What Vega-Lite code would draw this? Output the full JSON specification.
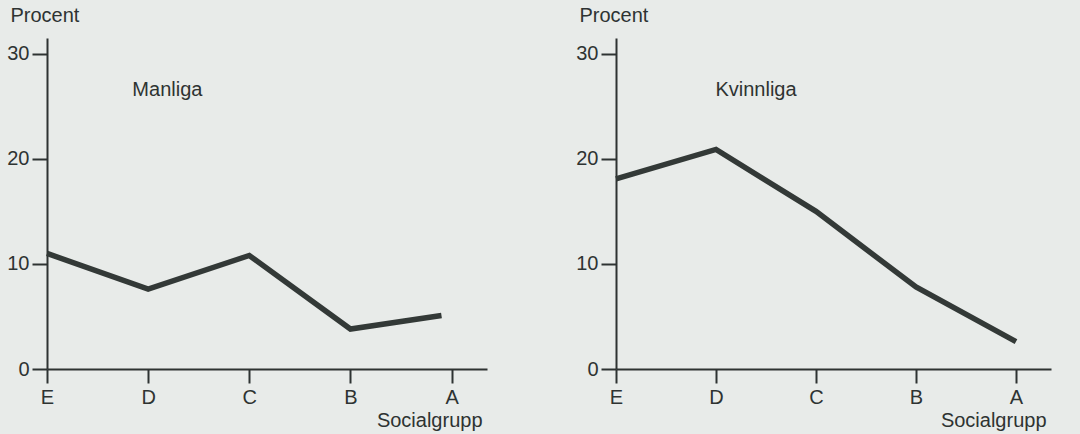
{
  "$schema": "https://vega.github.io/schema/vega-lite/v6.json",
  "background": "#e8ebe9",
  "padding": {"left": 6, "top": 5, "right": 30, "bottom": 3},
  "config": {
    "view": {"stroke": null},
    "font": "Liberation Sans"
  },
  "data": {
    "values": [
      {"kon": "Manliga", "grupp": "E", "pos": 0, "procent": 11.0},
      {"kon": "Manliga", "grupp": "D", "pos": 1, "procent": 7.6},
      {"kon": "Manliga", "grupp": "C", "pos": 2, "procent": 10.8},
      {"kon": "Manliga", "grupp": "B", "pos": 3, "procent": 3.8},
      {"kon": "Manliga", "grupp": "A", "pos": 3.9, "procent": 5.1},
      {"kon": "Kvinnliga", "grupp": "E", "pos": 0, "procent": 18.1},
      {"kon": "Kvinnliga", "grupp": "D", "pos": 1, "procent": 20.9},
      {"kon": "Kvinnliga", "grupp": "C", "pos": 2, "procent": 15.0},
      {"kon": "Kvinnliga", "grupp": "B", "pos": 3, "procent": 7.8},
      {"kon": "Kvinnliga", "grupp": "A", "pos": 4, "procent": 2.6}
    ]
  },
  "spacing": 88,
  "hconcat": [
    {
      "width": 440,
      "height": 331,
      "layer": [
        {
          "transform": [{"filter": "datum.kon === 'Manliga'"}],
          "mark": {"type": "line", "color": "#333937", "strokeWidth": 5.5, "strokeJoin": "miter", "strokeCap": "butt"},
          "encoding": {
            "x": {
              "field": "pos", "type": "quantitative",
              "scale": {"domain": [0, 4.35], "nice": false},
              "axis": {
                "grid": false, "domainColor": "#2e3332", "tickColor": "#2e3332", "domainWidth": 2, "tickWidth": 2,
                "labelColor": "#2e3332", "titleColor": "#2e3332", "labelFontSize": 20, "titleFontSize": 20,
                "titleFontWeight": "normal", "labelFont": "Liberation Sans", "titleFont": "Liberation Sans",
                "values": [0, 1, 2, 3, 4], "labelFlush": false,
                "labelExpr": "['E','D','C','B','A'][datum.value]",
                "tickSize": 14, "labelPadding": 4,
                "title": "Socialgrupp", "titleAnchor": "end", "titleAlign": "right",
                "titleX": 435, "titleY": 57.5, "titleBaseline": "alphabetic"
              }
            },
            "y": {
              "field": "procent", "type": "quantitative",
              "scale": {"domain": [0, 31.5], "nice": false},
              "axis": {
                "grid": false, "domainColor": "#2e3332", "tickColor": "#2e3332", "domainWidth": 2, "tickWidth": 2,
                "labelColor": "#2e3332", "titleColor": "#2e3332", "labelFontSize": 20, "titleFontSize": 20,
                "titleFontWeight": "normal", "labelFont": "Liberation Sans", "titleFont": "Liberation Sans",
                "values": [0, 10, 20, 30], "labelFlush": false,
                "tickSize": 15, "labelPadding": 3,
                "title": "Procent", "titleAngle": 0, "titleAlign": "left",
                "titleBaseline": "alphabetic", "titleX": -37, "titleY": -17
              }
            }
          }
        },
        {
          "data": {"values": [{"label": "Manliga"}]},
          "mark": {"type": "text", "fontSize": 20, "fontWeight": "normal", "color": "#2e3332", "font": "Liberation Sans", "align": "center", "baseline": "alphabetic"},
          "encoding": {
            "x": {"datum": 1.19, "type": "quantitative"},
            "y": {"datum": 26.0, "type": "quantitative"},
            "text": {"field": "label"}
          }
        }
      ]
    },
    {
      "width": 435,
      "height": 331,
      "layer": [
        {
          "transform": [{"filter": "datum.kon === 'Kvinnliga'"}],
          "mark": {"type": "line", "color": "#333937", "strokeWidth": 5.5, "strokeJoin": "miter", "strokeCap": "butt"},
          "encoding": {
            "x": {
              "field": "pos", "type": "quantitative",
              "scale": {"domain": [0, 4.35], "nice": false},
              "axis": {
                "grid": false, "domainColor": "#2e3332", "tickColor": "#2e3332", "domainWidth": 2, "tickWidth": 2,
                "labelColor": "#2e3332", "titleColor": "#2e3332", "labelFontSize": 20, "titleFontSize": 20,
                "titleFontWeight": "normal", "labelFont": "Liberation Sans", "titleFont": "Liberation Sans",
                "values": [0, 1, 2, 3, 4], "labelFlush": false,
                "labelExpr": "['E','D','C','B','A'][datum.value]",
                "tickSize": 14, "labelPadding": 4,
                "title": "Socialgrupp", "titleAnchor": "end", "titleAlign": "right",
                "titleX": 430, "titleY": 57.5, "titleBaseline": "alphabetic"
              }
            },
            "y": {
              "field": "procent", "type": "quantitative",
              "scale": {"domain": [0, 31.5], "nice": false},
              "axis": {
                "grid": false, "domainColor": "#2e3332", "tickColor": "#2e3332", "domainWidth": 2, "tickWidth": 2,
                "labelColor": "#2e3332", "titleColor": "#2e3332", "labelFontSize": 20, "titleFontSize": 20,
                "titleFontWeight": "normal", "labelFont": "Liberation Sans", "titleFont": "Liberation Sans",
                "values": [0, 10, 20, 30], "labelFlush": false,
                "tickSize": 15, "labelPadding": 3,
                "title": "Procent", "titleAngle": 0, "titleAlign": "left",
                "titleBaseline": "alphabetic", "titleX": -37, "titleY": -17
              }
            }
          }
        },
        {
          "data": {"values": [{"label": "Kvinnliga"}]},
          "mark": {"type": "text", "fontSize": 20, "fontWeight": "normal", "color": "#2e3332", "font": "Liberation Sans", "align": "center", "baseline": "alphabetic"},
          "encoding": {
            "x": {"datum": 1.4, "type": "quantitative"},
            "y": {"datum": 26.0, "type": "quantitative"},
            "text": {"field": "label"}
          }
        }
      ]
    }
  ]
}
